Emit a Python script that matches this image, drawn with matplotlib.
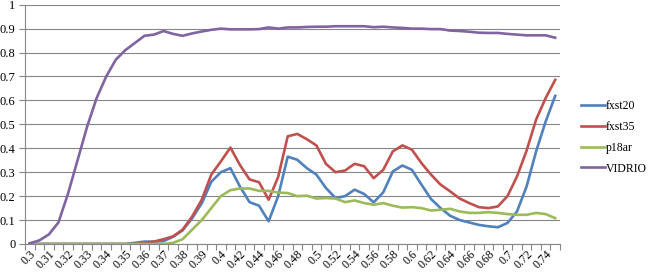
import matplotlib
matplotlib.use("Agg")
import matplotlib.pyplot as plt
import numpy as np

# categories: 0.300..0.400 step 0.005, then 0.41..0.75 step 0.01
categories = ["0.3", "0.305", "0.31", "0.315", "0.32", "0.325", "0.33", "0.335",
              "0.34", "0.345", "0.35", "0.355", "0.36", "0.365", "0.37", "0.375",
              "0.38", "0.385", "0.39", "0.395", "0.4",
              "0.41", "0.42", "0.43", "0.44", "0.45", "0.46", "0.47", "0.48",
              "0.49", "0.5", "0.51", "0.52", "0.53", "0.54", "0.55", "0.56",
              "0.57", "0.58", "0.59", "0.6", "0.61", "0.62", "0.63", "0.64",
              "0.65", "0.66", "0.67", "0.68", "0.69", "0.7", "0.71", "0.72",
              "0.73", "0.74", "0.75"]

fxst20 = [0, 0, 0, 0, 0, 0, 0, 0, 0, 0, 0, 0.005, 0.01, 0.01, 0.012, 0.03,
          0.057, 0.108, 0.17, 0.26, 0.30, 0.317, 0.24, 0.175, 0.16, 0.095,
          0.20, 0.365, 0.352, 0.317, 0.29, 0.234, 0.192, 0.20, 0.227, 0.209,
          0.174, 0.216, 0.303, 0.328, 0.31, 0.248, 0.188, 0.15, 0.118, 0.10,
          0.09, 0.08, 0.074, 0.07, 0.088, 0.136, 0.24, 0.387, 0.512, 0.619]

fxst35 = [0, 0, 0, 0, 0, 0, 0, 0, 0, 0, 0, 0, 0.005, 0.01, 0.02, 0.032,
          0.06, 0.115, 0.185, 0.29, 0.345, 0.403, 0.33, 0.27, 0.258, 0.185,
          0.28, 0.45, 0.46, 0.438, 0.412, 0.335, 0.30, 0.307, 0.335, 0.325,
          0.275, 0.31, 0.387, 0.412, 0.394, 0.338, 0.29, 0.248, 0.22, 0.19,
          0.171, 0.154, 0.15, 0.157, 0.20, 0.282, 0.39, 0.52, 0.61, 0.686]

p18ar = [0, 0, 0, 0, 0, 0, 0, 0, 0, 0, 0, 0, 0, 0, 0, 0.005,
         0.02, 0.06, 0.10, 0.15, 0.20, 0.225, 0.232, 0.232, 0.222, 0.222,
         0.215, 0.213, 0.20, 0.202, 0.19, 0.192, 0.19, 0.175, 0.182, 0.171,
         0.164, 0.171, 0.16, 0.152, 0.154, 0.15, 0.14, 0.143, 0.147, 0.136,
         0.13, 0.13, 0.133, 0.13, 0.125, 0.122, 0.122, 0.13, 0.125, 0.108]

vidrio = [0.003, 0.015, 0.04, 0.09, 0.21, 0.35, 0.49, 0.61, 0.70, 0.77,
          0.81, 0.84, 0.87, 0.875, 0.89, 0.878, 0.87, 0.88, 0.888, 0.895,
          0.90, 0.897, 0.897, 0.897, 0.898, 0.905, 0.90, 0.905, 0.905, 0.907,
          0.908, 0.908, 0.91, 0.91, 0.91, 0.91, 0.906, 0.908, 0.905, 0.903,
          0.90, 0.90, 0.898, 0.898, 0.892, 0.89, 0.887, 0.883, 0.882, 0.882,
          0.878, 0.875, 0.872, 0.872, 0.872, 0.862]

series = [("fxst20", fxst20, "#4F81BD"),
          ("fxst35", fxst35, "#C0504D"),
          ("p18ar", p18ar, "#9BBB59"),
          ("VIDRIO", vidrio, "#8064A2")]

plt.rcParams["font.family"] = ["Liberation Serif", "DejaVu Serif"]
plt.rcParams["font.size"] = 9

fig = plt.figure(figsize=(6.5, 2.73), dpi=100)
ax = fig.add_axes([25 / 650, 1 - 244 / 273, 535 / 650, (244 - 4.7) / 273])

x = np.arange(len(categories))
for name, vals, col in series:
    ax.plot(x, vals, color=col, lw=1.9, label=name, solid_joinstyle="round")

ax.set_xlim(-0.5, len(categories) - 0.5)
ax.set_ylim(0, 1)

# y axis
ax.set_yticks(np.arange(0, 1.01, 0.1))
ax.set_yticklabels(["0", "0.1", "0.2", "0.3", "0.4", "0.5", "0.6", "0.7", "0.8", "0.9", "1"])
ax.grid(axis="y", color="#868686", lw=0.8)
ax.set_axisbelow(True)

# x axis: tick marks at category borders, labels on every other category
ax.set_xticks(np.arange(-0.5, len(categories), 1.0), minor=True)
ax.set_xticks(x[::2])
ax.set_xticklabels(categories[::2], rotation=45, ha="right", va="top",
                   rotation_mode="anchor", fontsize=8.5)
ax.tick_params(axis="x", which="major", length=0, pad=3)
ax.tick_params(axis="x", which="minor", length=4, color="#868686", width=0.8)
ax.tick_params(axis="y", length=4, color="#868686", width=0.8, pad=3)

for s in ["top", "right"]:
    ax.spines[s].set_visible(False)
for s in ["left", "bottom"]:
    ax.spines[s].set_color("#868686")
    ax.spines[s].set_linewidth(0.8)

ax.legend(loc="upper left", bbox_to_anchor=(581 / 650, 1 - 100 / 273),
          bbox_transform=fig.transFigure, frameon=False, borderpad=0,
          borderaxespad=0, handlelength=2.0, handletextpad=0.1,
          labelspacing=0.75, fontsize=8.5)

fig.savefig("out.png", dpi=100)
